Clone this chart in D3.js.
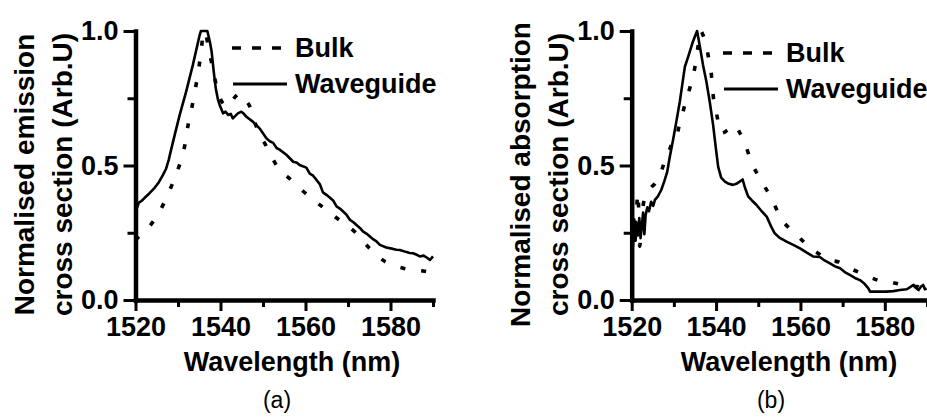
<!DOCTYPE html>
<html>
<head>
<meta charset="utf-8">
<script src="https://cdn.jsdelivr.net/npm/d3@7/dist/d3.min.js"></script>
<style>
  html, body { margin: 0; padding: 0; background: #fff; }
  svg { display: block; font-family: "Liberation Sans", Arial, sans-serif; }
</style>
</head>
<body>
<script>
// Normalised cross sections of the Er-doped glass: bulk vs. waveguide.
// Each series is a list of [wavelength (nm), normalised value].

const emissionBulk = [
  [1520.0,0.222],[1521.6,0.250],[1523.4,0.276],[1525.0,0.312],[1526.4,0.351],
  [1527.5,0.388],[1528.5,0.425],[1529.4,0.460],[1530.2,0.495],[1531.0,0.535],
  [1531.6,0.575],[1532.3,0.644],[1533.3,0.719],[1534.1,0.787],[1534.9,0.861],
  [1535.5,0.936],[1536.1,0.998],[1536.5,0.990],[1537.2,0.935],[1538.2,0.860],
  [1539.2,0.785],[1540.4,0.735],[1541.8,0.719],[1543.2,0.750],[1544.5,0.768],
  [1545.5,0.750],[1546.9,0.719],[1548.4,0.646],[1550.8,0.571],[1553.2,0.500],
  [1556.7,0.445],[1560.2,0.394],[1564.0,0.346],[1567.9,0.298],[1571.9,0.249],
  [1575.0,0.193],[1578.7,0.143],[1583.0,0.118],[1587.7,0.108],[1590.0,0.100]
];

const emissionWaveguide = [
  [1520.0,0.352],[1520.4,0.345],[1520.8,0.362],[1521.4,0.368],[1522.1,0.379],
  [1523.3,0.397],[1524.5,0.417],[1525.5,0.438],[1526.4,0.463],[1527.2,0.488],
  [1527.8,0.520],[1528.4,0.560],[1529.4,0.625],[1530.4,0.688],[1531.9,0.774],
  [1533.5,0.874],[1535.1,0.985],[1535.4,1.000],[1536.2,1.000],[1536.9,1.000],
  [1537.5,0.960],[1537.9,0.925],[1538.4,0.850],[1538.9,0.785],[1539.4,0.745],
  [1539.8,0.725],[1540.6,0.694],[1541.2,0.700],[1541.8,0.688],[1542.4,0.692],
  [1542.9,0.675],[1544.1,0.694],[1544.9,0.700],[1545.5,0.692],[1546.1,0.681],
  [1547.6,0.663],[1549.2,0.638],[1550.8,0.601],[1551.6,0.590],[1552.4,0.584],
  [1553.2,0.565],[1553.9,0.559],[1555.5,0.540],[1557.1,0.514],[1558.0,0.510],
  [1558.6,0.502],[1560.2,0.492],[1561.0,0.470],[1561.8,0.462],[1563.4,0.430],
  [1564.1,0.400],[1565.0,0.390],[1566.5,0.370],[1567.3,0.348],[1568.1,0.340],
  [1569.6,0.318],[1570.4,0.299],[1571.2,0.290],[1572.8,0.268],[1573.5,0.255],
  [1574.4,0.246],[1575.9,0.226],[1576.7,0.218],[1577.5,0.205],[1579.0,0.195],
  [1580.6,0.190],[1581.4,0.187],[1582.2,0.186],[1583.8,0.178],[1584.5,0.175],
  [1585.3,0.174],[1586.2,0.168],[1586.9,0.162],[1587.8,0.165],[1588.5,0.158],
  [1589.3,0.149],[1590.0,0.162]
];

const absorptionBulk = [
  [1520.0,0.300],[1520.6,0.250],[1521.1,0.330],[1521.5,0.397],[1521.9,0.200],
  [1522.4,0.300],[1522.8,0.360],[1523.6,0.395],[1524.7,0.420],[1525.5,0.432],
  [1526.2,0.446],[1527.4,0.496],[1528.2,0.540],[1529.0,0.560],[1529.7,0.588],
  [1530.6,0.600],[1531.2,0.646],[1532.0,0.690],[1532.8,0.738],[1533.9,0.795],
  [1535.0,0.867],[1535.8,0.950],[1536.3,1.000],[1536.9,0.985],[1538.1,0.911],
  [1538.9,0.836],[1539.3,0.762],[1540.1,0.694],[1541.3,0.620],[1542.6,0.630],
  [1544.4,0.651],[1545.5,0.625],[1546.8,0.583],[1548.4,0.512],[1550.8,0.441],
  [1553.3,0.373],[1555.5,0.299],[1557.3,0.268],[1559.0,0.244],[1562.2,0.195],
  [1564.5,0.170],[1566.2,0.150],[1569.4,0.140],[1571.7,0.118],[1574.5,0.099],
  [1578.4,0.074],[1580.8,0.068],[1583.7,0.058],[1585.6,0.050],[1587.6,0.050],
  [1589.1,0.037],[1590.0,0.035]
];

const absorptionWaveguide = [
  [1520.0,0.270],[1520.3,0.200],[1520.6,0.300],[1520.9,0.220],[1521.2,0.285],
  [1521.5,0.240],[1521.8,0.305],[1522.1,0.230],[1522.4,0.275],[1522.7,0.325],
  [1523.0,0.245],[1523.3,0.315],[1523.7,0.345],[1524.1,0.330],[1524.6,0.365],
  [1525.1,0.350],[1525.5,0.372],[1526.2,0.385],[1527.0,0.409],[1527.7,0.440],
  [1528.4,0.475],[1529.0,0.530],[1529.8,0.595],[1530.6,0.665],[1531.4,0.737],
  [1532.2,0.824],[1532.6,0.867],[1533.4,0.905],[1534.5,0.960],[1535.5,1.000],
  [1536.1,0.948],[1536.9,0.874],[1537.7,0.812],[1538.5,0.737],[1539.3,0.651],
  [1539.9,0.570],[1540.5,0.495],[1541.2,0.455],[1542.1,0.440],[1543.0,0.432],
  [1544.0,0.428],[1544.8,0.432],[1545.6,0.440],[1546.3,0.448],[1546.8,0.420],
  [1547.6,0.385],[1548.5,0.370],[1549.6,0.353],[1550.8,0.330],[1552.0,0.310],
  [1553.0,0.275],[1553.9,0.248],[1555.0,0.232],[1556.7,0.217],[1558.3,0.205],
  [1559.9,0.192],[1561.5,0.176],[1563.0,0.162],[1564.6,0.160],[1565.8,0.146],
  [1567.0,0.136],[1568.2,0.125],[1569.4,0.118],[1570.5,0.104],[1571.7,0.093],
  [1572.9,0.082],[1574.1,0.074],[1575.2,0.060],[1576.1,0.043],[1576.5,0.031],
  [1578.5,0.031],[1580.4,0.031],[1582.0,0.033],[1583.6,0.037],[1585.2,0.040],
  [1586.0,0.048],[1586.8,0.056],[1587.4,0.045],[1588.0,0.037],[1588.6,0.050],
  [1589.1,0.056],[1589.5,0.040],[1589.9,0.043]
];

const xDomain = [1520, 1590];
const yDomain = [0, 1];
const xMajorTicks = [1520, 1540, 1560, 1580];
const xMinorTicks = [1530, 1550, 1570, 1590];
const yMajorTicks = [0.0, 0.5, 1.0];
const yMinorTicks = [0.25, 0.75];
const legendNames = ["Bulk", "Waveguide"];
const xTitle = "Wavelength (nm)";

const panels = [
  {
    left: 135.5, right: 433, top: 31, bottom: 300,
    bulk: emissionBulk, waveguide: emissionWaveguide,
    yTitle: ["Normalised emission", "cross section (Arb.U)"],
    tag: "(a)", tagX: 277, titleX: 292,
    legX: 232, legY: 48
  },
  {
    left: 631.7, right: 927, top: 31, bottom: 300,
    bulk: absorptionBulk, waveguide: absorptionWaveguide,
    yTitle: ["Normalised absorption", "cross section (Arb.U)"],
    tag: "(b)", tagX: 771, titleX: 789,
    legX: 723, legY: 53
  }
];

const svg = d3.select("body").append("svg")
  .attr("width", 927).attr("height", 417);

const fmt = d3.format(".1f");

panels.forEach((p, i) => {
  const x = d3.scaleLinear().domain(xDomain).range([p.left, p.right]);
  const y = d3.scaleLinear().domain(yDomain).range([p.bottom, p.top]);
  const g = svg.append("g");

  // clip the curves to the plotting area
  const clipId = "clip" + i;
  svg.append("clipPath").attr("id", clipId).append("rect")
    .attr("x", p.left).attr("y", p.top - 6)
    .attr("width", p.right - p.left + 2).attr("height", p.bottom - p.top + 6);

  const line = d3.line().x(d => x(d[0])).y(d => y(d[1]));

  g.append("path").datum(p.bulk)
    .attr("clip-path", `url(#${clipId})`)
    .attr("fill", "none").attr("stroke", "#000")
    .attr("stroke-width", 3.6)
    .attr("stroke-dasharray", "5 16")
    .attr("d", line.curve(d3.curveMonotoneX));

  g.append("path").datum(p.waveguide)
    .attr("clip-path", `url(#${clipId})`)
    .attr("fill", "none").attr("stroke", "#000")
    .attr("stroke-width", 2.6).attr("stroke-linejoin", "round")
    .attr("d", line.curve(d3.curveLinear));

  // x axis: labelled major ticks plus unlabelled minor ticks
  const xAxisG = g.append("g").attr("transform", `translate(0,${p.bottom})`);
  xAxisG.call(d3.axisBottom(x).tickValues(xMajorTicks).tickSize(11)
    .tickSizeOuter(0).tickPadding(6).tickFormat(d3.format("d")));
  const xMinorG = g.append("g").attr("transform", `translate(0,${p.bottom})`);
  xMinorG.call(d3.axisBottom(x).tickValues(xMinorTicks).tickSize(7)
    .tickSizeOuter(0).tickFormat(""));
  xMinorG.select(".domain").remove();

  // y axis
  const yAxisG = g.append("g").attr("transform", `translate(${p.left},0)`);
  yAxisG.call(d3.axisLeft(y).tickValues(yMajorTicks).tickSize(12)
    .tickSizeOuter(0).tickPadding(5).tickFormat(fmt));
  const yMinorG = g.append("g").attr("transform", `translate(${p.left},0)`);
  yMinorG.call(d3.axisLeft(y).tickValues(yMinorTicks).tickSize(8)
    .tickSizeOuter(0).tickFormat(""));
  yMinorG.select(".domain").remove();

  g.selectAll(".domain").attr("stroke", "#000").attr("stroke-width", 4.5)
    .attr("stroke-linecap", "square");
  g.selectAll(".tick line").attr("stroke", "#000").attr("stroke-width", 3);
  g.selectAll(".tick text").attr("fill", "#000")
    .attr("font-family", '"Liberation Sans", Arial, sans-serif')
    .attr("font-weight", "bold").attr("font-size", 27);
  xAxisG.selectAll(".tick text").attr("dy", "0.71em");

  // axis titles
  g.append("text")
    .attr("x", p.titleX).attr("y", 371)
    .attr("text-anchor", "middle")
    .attr("font-weight", "bold").attr("font-size", 27)
    .text(xTitle);

  const yMid = (p.top + p.bottom) / 2 + 9;
  p.yTitle.forEach((t, k) => {
    const bx = p.left - (k === 0 ? 102 : 64);
    g.append("text")
      .attr("transform", `translate(${bx},${yMid}) rotate(-90)`)
      .attr("text-anchor", "middle")
      .attr("font-weight", "bold").attr("font-size", 28)
      .text(t);
  });

  // legend
  const lg = g.append("g");
  lg.append("line")
    .attr("x1", p.legX).attr("x2", p.legX + 50)
    .attr("y1", p.legY).attr("y2", p.legY)
    .attr("stroke", "#000").attr("stroke-width", 3.6)
    .attr("stroke-dasharray", "9 11");
  lg.append("text")
    .attr("x", p.legX + 63).attr("y", p.legY + 8.5)
    .attr("font-weight", "bold").attr("font-size", 27)
    .text(legendNames[0]);
  lg.append("line")
    .attr("x1", p.legX + 1).attr("x2", p.legX + 55)
    .attr("y1", p.legY + 36).attr("y2", p.legY + 36)
    .attr("stroke", "#000").attr("stroke-width", 3);
  lg.append("text")
    .attr("x", p.legX + 63).attr("y", p.legY + 45)
    .attr("font-weight", "bold").attr("font-size", 27)
    .text(legendNames[1]);

  // panel tag
  g.append("text")
    .attr("x", p.tagX).attr("y", 408)
    .attr("text-anchor", "middle")
    .attr("font-size", 23)
    .text(p.tag);
});
</script>
</body>
</html>
